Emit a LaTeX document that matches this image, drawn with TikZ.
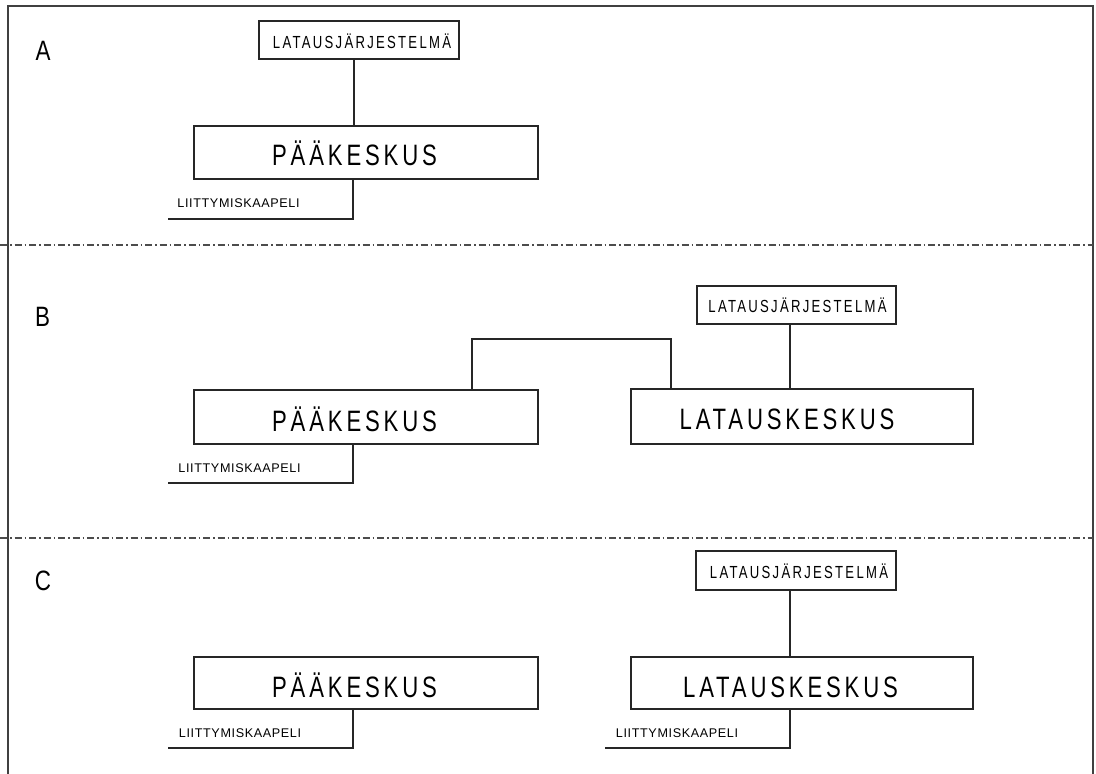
\documentclass[tikz,border=0pt]{standalone}
\usepackage{fontspec}
\setmainfont{Liberation Sans}
\newfontfamily\bigcad[FakeStretch=0.75,LetterSpace=13]{Liberation Sans}
\newfontfamily\smallcad[FakeStretch=0.75,LetterSpace=13]{Liberation Sans}
\newfontfamily\tinycad[LetterSpace=5]{Liberation Sans}
\newfontfamily\lettercad[FakeStretch=0.8]{Liberation Sans}
\begin{document}
\begin{tikzpicture}[x=1pt,y=-1pt,
  frame/.style={draw=black!75,line width=1.8pt},
  divider/.style={draw=black!70,line width=1.5pt,dash pattern=on 7pt off 3pt on 1.5pt off 3pt},
  wire/.style={draw=black!85,line width=1.2pt},
  box/.style={draw=black!85,line width=1.2pt,rectangle,inner sep=0pt},
  sysbox/.style={box,minimum width=200pt,minimum height=38pt},
  mainbox/.style={box,minimum width=344pt,minimum height=53pt},
  chargebox/.style={box,minimum width=342pt,minimum height=54pt},
  bigtxt/.style={anchor=base,inner sep=0pt,font=\bigcad\fontsize{29.5}{30}\selectfont},
  smalltxt/.style={anchor=base,inner sep=0pt,font=\smallcad\fontsize{17.5}{18}\selectfont},
  cabletxt/.style={anchor=base,inner sep=0pt,font=\tinycad\fontsize{12.6}{13}\selectfont},
  lettertxt/.style={anchor=base,inner sep=0pt,font=\lettercad\fontsize{28}{28}\selectfont}
]
\useasboundingbox (0,0) rectangle (1096,774);
\fill[white] (0,0) rectangle (1096,774);

% outer frame (open at the bottom) and section dividers
\draw[frame] (8,780) -- (8,6) -- (1093,6) -- (1093,780);
\draw[divider] (0,245) -- (1093,245);
\draw[divider] (0,538) -- (1093,538);

% section letters
\node[lettertxt] (secA) at (43,60) {A};
\node[lettertxt] (secB) at (42.5,326) {B};
\node[lettertxt] (secC) at (43,590) {C};

% ---- A ----
\node[sysbox] (sysA) at (359,40) {};
\node[smalltxt] (sysAt) at (362,48) {LATAUSJÄRJESTELMÄ};
\node[mainbox] (pkA) at (366,152.5) {};
\node[bigtxt] (pkAt) at (354.5,165) {PÄÄKESKUS};
\draw[wire] ([xshift=-5pt]sysA.south) -- ([xshift=-5pt]sysA.south |- pkA.north);
\coordinate (cabA) at (168,219);
\draw[wire] ([xshift=-13pt]pkA.south) |- (cabA);
\node[cabletxt] (cabAt) at (238.5,207) {LIITTYMISKAAPELI};

% ---- B ----
\node[sysbox,minimum width=199pt] (sysB) at (796.5,305) {};
\node[smalltxt] (sysBt) at (797.5,312) {LATAUSJÄRJESTELMÄ};
\node[mainbox,minimum height=54pt] (pkB) at (366,417) {};
\node[bigtxt] (pkBt) at (354.5,431.5) {PÄÄKESKUS};
\node[chargebox,minimum height=55pt] (lkB) at (802,416.5) {};
\node[bigtxt] (lkBt) at (787,429.5) {LATAUSKESKUS};
\draw[wire] ([xshift=-6.5pt]sysB.south) -- ([xshift=-6.5pt]sysB.south |- lkB.north);
\coordinate (linkL) at (472,339);
\coordinate (linkR) at (671,339);
\draw[wire] (pkB.north -| linkL) -- (linkL) -- (linkR) -- (lkB.north -| linkR);
\coordinate (cabB) at (168,483);
\draw[wire] ([xshift=-13pt]pkB.south) |- (cabB);
\node[cabletxt] (cabBt) at (239.5,472) {LIITTYMISKAAPELI};

% ---- C ----
\node[sysbox,minimum height=39pt] (sysC) at (796,570.5) {};
\node[smalltxt] (sysCt) at (799,578) {LATAUSJÄRJESTELMÄ};
\node[mainbox,minimum height=52pt] (pkC) at (366,683) {};
\node[bigtxt] (pkCt) at (354.5,697) {PÄÄKESKUS};
\node[chargebox,minimum height=52pt] (lkC) at (802,683) {};
\node[bigtxt] (lkCt) at (790.5,697) {LATAUSKESKUS};
\draw[wire] ([xshift=-6pt]sysC.south) -- ([xshift=-6pt]sysC.south |- lkC.north);
\coordinate (cabC1) at (168,748);
\draw[wire] ([xshift=-13pt]pkC.south) |- (cabC1);
\node[cabletxt] (cabC1t) at (240,737) {LIITTYMISKAAPELI};
\coordinate (cabC2) at (605,748);
\draw[wire] ([xshift=-12pt]lkC.south) |- (cabC2);
\node[cabletxt] (cabC2t) at (677,737) {LIITTYMISKAAPELI};
\end{tikzpicture}
\end{document}
